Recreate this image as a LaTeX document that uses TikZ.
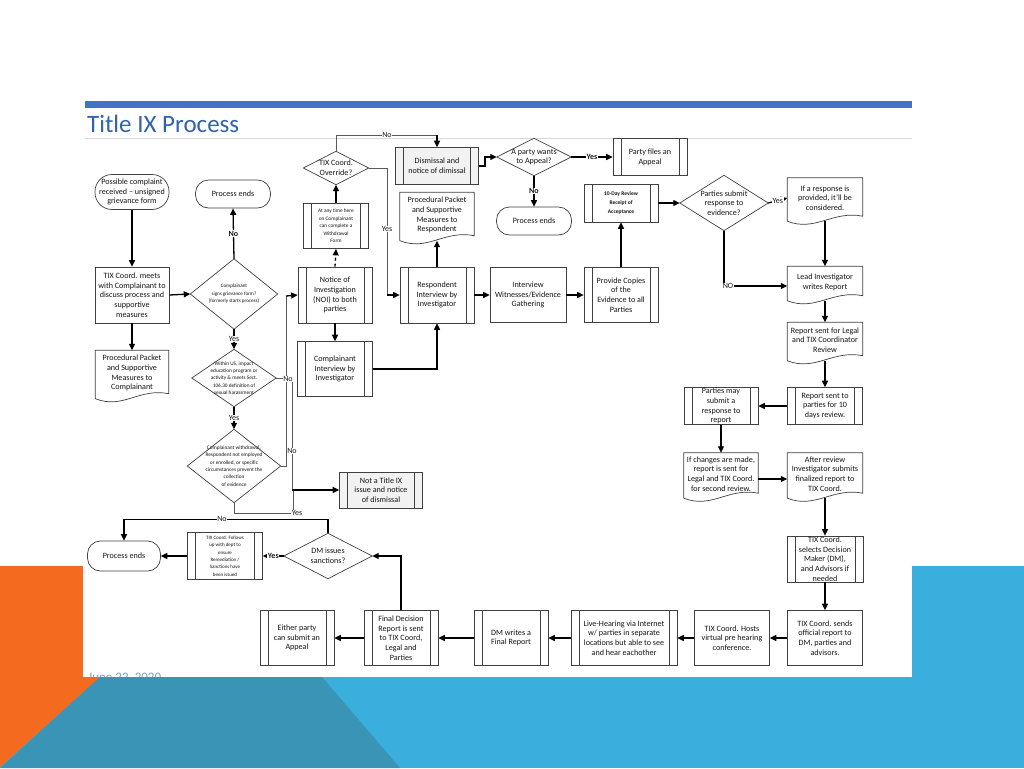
\documentclass[tikz,border=0pt]{standalone}
\usepackage{fontspec}
\setmainfont{Carlito}
\usetikzlibrary{arrows.meta,calc}
\definecolor{headerblue}{RGB}{68,114,196}
\definecolor{titleblue}{RGB}{50,98,172}
\definecolor{orangeC}{RGB}{244,106,30}
\definecolor{blueC}{RGB}{58,174,220}
\definecolor{tealC}{RGB}{58,148,181}
\definecolor{dateC}{RGB}{120,160,215}
\newcommand\docoutline[1]{\draw[boxline] ($(#1.south west)+(0,3)$) -- (#1.north west) -- (#1.north east) -- ($(#1.south east)+(0,-2)$) .. controls ($(#1.south east)+(-30,-8)$) and ($(#1.south west)+(28,14)$) .. ($(#1.south west)+(0,3)$);}
\newcommand\diaoutline[1]{\draw[boxline] (#1.north) -- (#1.east) -- (#1.south) -- (#1.west) -- cycle;}
\tikzset{
  base/.style={align=center, inner sep=0pt, font=\fontsize{8.1}{9.7}\selectfont, text=black!92},
  sz/.style 2 args={minimum width=#1, minimum height=#2},
  boxline/.style={draw=black!75, line width=0.7pt},
  bx/.style={base, boxline, rectangle},
  term/.style={bx, rounded corners=13pt},
  pp/.style={bx, path picture={\draw[boxline] ([xshift=8pt]path picture bounding box.north west) -- ([xshift=8pt]path picture bounding box.south west) ([xshift=-8pt]path picture bounding box.north east) -- ([xshift=-8pt]path picture bounding box.south east);}},
  doc/.style={base},
  dia/.style={base},
  tinyf/.style={font=\fontsize{5.3}{7.5}\selectfont},
  arr/.style={line width=1.3pt, draw=black, -{Triangle[length=6.5pt,width=6pt]}},
  ln/.style={line width=1.3pt, draw=black},
  thin/.style={line width=0.9pt, draw=black!65},
  lab/.style={font=\fontsize{8}{9}\selectfont, text=black!90, fill=white, inner sep=0.6pt},
  blab/.style={lab, font=\bfseries\fontsize{8}{9}\selectfont}
}
\begin{document}
\begin{tikzpicture}[x=1pt,y=-1pt]
\useasboundingbox (0,0) rectangle (1024,768);
\fill[white] (0,0) rectangle (1024,768);
\fill[orangeC] (0,566) rectangle (83,677);
\fill[blueC] (912,566) rectangle (1024,677);
\fill[headerblue] (85,101) rectangle (912,108);
\draw[black!15, line width=0.8pt] (85,138) -- (912,138);
\node[anchor=west, inner sep=0pt, font=\fontsize{25}{28}\selectfont, text=titleblue] (title) at (87,124) {Title IX Process};

% terminals
\node[term, sz={74}{35}, rounded corners=17pt] (start) at (132,192) {Possible complaint\\received – unsigned\\grievance form};
\node[term, sz={75}{28}] (end1) at (233,194) {Process ends};
\node[term, sz={75}{28}] (end2) at (534,221) {Process ends};
\node[term, sz={73}{30}] (end3) at (124,556) {Process ends};

% plain boxes
\node[bx, sz={74}{56}] (meet) at (132,295) {TIX Coord. meets\\with Complainant to\\discuss process and\\supportive\\measures};
\node[bx, sz={76}{55}] (witness) at (528,295) {Interview\\Witnesses/Evidence\\Gathering};
\node[bx, sz={75}{55}] (hosts) at (732,638) {TIX Coord. Hosts\\virtual pre hearing\\conference.};
\node[bx, sz={75}{55}] (sends) at (825,638) {TIX Coord. sends\\official report to\\DM, parties and\\advisors.};

% predefined process boxes
\node[pp, sz={65}{45}, tinyf] (withdraw) at (336,226) {At any time here\\on Complainant\\can complete a\\Withdrawal\\Form};
\node[pp, sz={83}{37}, fill=black!5] (dismiss) at (437,166) {Dismissal and\\notice of dimissal};
\node[pp, sz={74}{56}] (noi) at (335,295) {Notice of\\Investigation\\(NOI) to both\\parties};
\node[pp, sz={74}{56}] (resp) at (437,295) {Respondent\\Interview by\\Investigator};
\node[pp, sz={75}{55}] (compl) at (335,369) {Complainant\\Interview by\\Investigator};
\node[pp, sz={83}{36}, fill=black!5] (notix) at (381,490) {Not a Title IX\\issue and notice\\of dismissal};
\node[pp, sz={74}{37}] (files) at (650,157) {Party files an\\Appeal};
\node[pp, sz={74}{38}, font=\bfseries\fontsize{5.5}{9}\selectfont] (tenday) at (621,203) {10-Day Review\\Receipt of\\Acceptance};
\node[pp, sz={74}{55}] (copies) at (621,295) {Provide Copies\\of the\\Evidence to all\\Parties};
\node[pp, sz={74}{37}] (psubmit) at (721,406) {Parties may\\submit a\\response to\\report};
\node[pp, sz={75}{37}] (rsent) at (825,406) {Report sent to\\parties for 10\\days review.};
\node[pp, sz={76}{46}] (selects) at (825,559) {TIX Coord.\\selects Decision\\Maker (DM),\\and Advisors if\\needed};
\node[pp, sz={75}{47}, font=\fontsize{5}{7.4}\selectfont] (follows) at (225,556) {TIX Coord. Follows\\up with dept to\\ensure\\Remediation /\\Sanctions have\\been issued};
\node[pp, sz={74}{55}] (appeal) at (297,638) {Either party\\can submit an\\Appeal};
\node[pp, sz={74}{55}] (final) at (401,638) {Final Decision\\Report is sent\\to TIX Coord,\\Legal and\\Parties};
\node[pp, sz={74}{55}] (dmw) at (511,638) {DM writes a\\Final Report};
\node[pp, sz={106}{55}] (live) at (624,638) {Live-Hearing via Internet\\w/ parties in separate\\locations but able to see\\and hear eachother};

% documents
\node[doc, sz={73}{45}] (ppc) at (132,373) {Procedural Packet\\and Supportive\\Measures to\\Complainant};
\node[doc, sz={74}{45}] (ppr) at (437,215) {Procedural Packet\\and Supportive\\Measures to\\Respondent};
\node[doc, sz={75}{40}] (consider) at (825,198) {If a response is\\provided, it'll be\\considered.};
\node[doc, sz={75}{31}] (lead) at (825,282) {Lead Investigator\\writes Report};
\node[doc, sz={75}{35}] (rlegal) at (825,340) {Report sent for Legal\\and TIX Coordinator\\Review};
\node[doc, sz={74}{42}] (changes) at (721,474) {If changes are made,\\report is sent for\\Legal and TIX Coord.\\for second review.};
\node[doc, sz={75}{42}] (after) at (825,474) {After review\\Investigator submits\\finalized report to\\TIX Coord.};
\docoutline{ppc}\docoutline{ppr}\docoutline{consider}\docoutline{lead}
\docoutline{rlegal}\docoutline{changes}\docoutline{after}

% diamonds
\node[dia, sz={87}{70}, font=\fontsize{5.1}{7.4}\selectfont] (d1) at (234,294) {Complainant\\signs grievance form?\\(formerly starts process)};
\node[dia, sz={84}{57}, font=\fontsize{5.3}{7.4}\selectfont] (d2) at (234,378) {Within US, impact\\education program or\\activity \& meets Sect.\\106.30 definition of\\sexual harassment};
\node[dia, sz={93}{73}, font=\fontsize{5.3}{7.4}\selectfont] (d3) at (234,466) {Complainant withdrawal,\\Respondent not employed\\or enrolled, or specific\\circumstances prevent the\\collection\\of evidence};
\node[dia, sz={65}{33}] (ovr) at (336,168) {TIX Coord.\\Override?};
\node[dia, sz={74}{37}] (appq) at (534,157) {A party wants\\to Appeal?};
\node[dia, sz={88}{55}] (psq) at (724,203) {Parties submit\\response to\\evidence?};
\node[dia, sz={88}{45}] (dmq) at (328,556) {DM issues\\sanctions?};
\diaoutline{d1}\diaoutline{d2}\diaoutline{d3}\diaoutline{ovr}\diaoutline{appq}\diaoutline{psq}\diaoutline{dmq}

% connectors - left column
\draw[arr] (start.south) -- (meet.north);
\draw[arr] (meet.east) -- (d1.west);
\draw[arr] (meet.south) -- (ppc.north);
\draw[arr] (d1.north) -- node[blab]{No} (end1.south);
\draw[arr] (d1.south) -- node[lab]{Yes} (d2.north);
\draw[arr] (d2.south) -- node[lab]{Yes} (d3.north);
\draw[thin] (d2.east) -- (292,378) -- (292,490);
\draw[thin] (d3.east) -- (286,466) -- (286,296);
\draw[arr] (286,296) -- (noi.west);
\draw[thin] (d3.south) -- (234,513) -- (293,513) -- (293,490);
\draw[arr] (292,490) -- (notix.west);
\node[lab] (lno2) at (288,379) {No};
\node[lab] (lno3) at (292,451) {No};
\node[lab] (lyes3) at (297,513) {Yes};

% middle
\draw[arr, dashed] (noi.north) -- (withdraw.south);
\draw[arr] (withdraw.north) -- (ovr.south);
\draw[thin] (ovr.north) -- (336,135) -- (437,135);
\draw[arr] (437,135) -- (dismiss.north);
\node[lab] (lnoovr) at (387,135) {No};
\draw[thin] (ovr.east) -- (387,168) -- (387,295);
\draw[arr] (387,295) -- (resp.west);
\node[lab] (lyesovr) at (387,229) {Yes};
\draw[arr] (noi.south) -- (compl.north);
\draw[arr] (compl.east) -| (resp.south);
\draw[arr] (resp.north) -- ($(ppr.south)+(0,3)$);
\draw[arr] (resp.east) -- (witness.west);
\draw[arr] (witness.east) -- (copies.west);
\draw[arr] (copies.north) -- (tenday.south);
\draw[arr] (tenday.east) -- (psq.west);
\draw[arr] (dismiss.east) -- ++(6,0) |- (appq.west);
\draw[arr] (appq.east) -- node[blab]{Yes} (files.west);
\draw[arr] (appq.south) -- node[blab]{No} (end2.north);

% right column
\draw[arr] (psq.east) -- node[lab]{Yes} (consider.west);
\draw[arr] ($(consider.south)+(0,3)$) -- (lead.north);
\draw[arr] (psq.south) |- ($(lead.west)+(0,4)$);
\node[lab] (lnops) at (728,286) {NO};
\draw[arr] ($(lead.south)+(0,3)$) -- (rlegal.north);
\draw[arr] ($(rlegal.south)+(0,3)$) -- (rsent.north);
\draw[arr] (rsent.west) -- (psubmit.east);
\draw[arr] (psubmit.south) -- (changes.north);
\draw[arr] ($(changes.east)+(0,5)$) -- ($(after.west)+(0,5)$);
\draw[arr] ($(after.south)+(0,3)$) -- (selects.north);
\draw[arr] (selects.south) -- (sends.north);

% bottom row
\draw[arr] (sends.west) -- (hosts.east);
\draw[arr] (hosts.west) -- (live.east);
\draw[arr] (live.west) -- (dmw.east);
\draw[arr] (dmw.west) -- (final.east);
\draw[arr] (final.west) -- (appeal.east);
\draw[arr] (final.north) |- (dmq.east);
\draw[arr] (dmq.west) -- node[blab]{Yes} (follows.east);
\draw[arr] (follows.west) -- (end3.east);
\draw[arr] (dmq.north) -- ++(0,-14) -| (end3.north);
\node[lab] (lnodm) at (222,519) {No};

% date and bottom band
\node[anchor=base west, inner sep=0pt, font=\fontsize{13}{14}\selectfont, text=dateC] (date) at (88,681) {June 22, 2020};
\fill[blueC] (0,677) rectangle (1024,768);
\fill[orangeC] (0,677) -- (100,677) -- (0,767) -- cycle;
\fill[tealC] (100,677) -- (322,677) -- (400,768) -- (0,768) -- cycle;
\end{tikzpicture}
\end{document}
